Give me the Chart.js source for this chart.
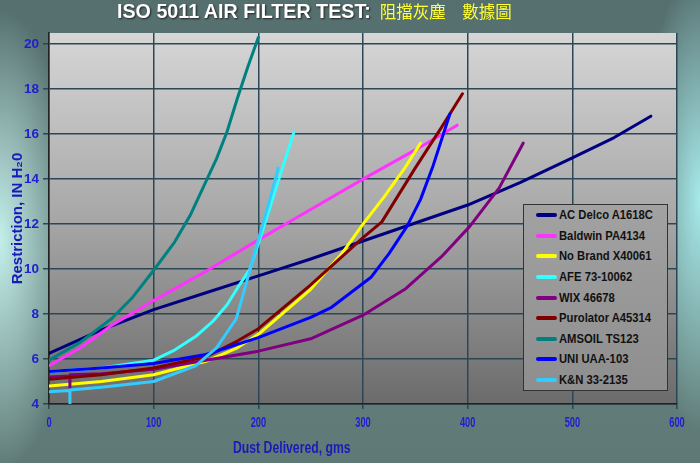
<!DOCTYPE html>
<html><head><meta charset="utf-8">
<script src="https://cdn.jsdelivr.net/npm/chart.js@4.4.0/dist/chart.umd.min.js"></script>
<style>
html,body{margin:0;padding:0;width:700px;height:463px;overflow:hidden;}
body{position:relative;
 background:
  radial-gradient(ellipse 75px 230px at 0px 240px, rgba(200,245,240,0.95), rgba(200,245,240,0) 100%),
  radial-gradient(ellipse 60px 230px at 700px 200px, rgba(170,240,240,0.95), rgba(170,240,240,0) 100%),
  linear-gradient(#556f6f, #66817d 60%, #5f7a76);
}
#wrap{position:absolute;left:0;top:0;width:700px;height:463px;}
#title{position:absolute;left:117px;top:-1px;white-space:nowrap;font-weight:bold;line-height:24px;}
#title .en{font-family:"Liberation Sans",Arial,sans-serif;font-size:19.7px;color:#fff;text-shadow:1px 1px 2px #222;}
#title .zh{font-family:"Noto Sans CJK TC",sans-serif;font-size:16.5px;color:#ffff33;margin-left:9px;font-weight:normal;}
#legend{position:absolute;left:523px;top:204px;width:145px;height:187px;box-sizing:border-box;border:1px solid #333;
 background:linear-gradient(#a2a2a2,#8e8e8e);padding-top:0px;}
.row{height:20.6px;display:flex;align-items:center;white-space:nowrap;font-family:"Liberation Sans",Arial,sans-serif;font-weight:bold;font-size:12.5px;color:#111;}
.sw{display:inline-block;flex:none;width:21px;height:4px;margin-left:12px;margin-right:2px;border-radius:2px;}
.lt{display:inline-block;transform:scaleX(0.9);transform-origin:0 50%;}
</style></head>
<body>
<div id="wrap"><canvas id="c" width="700" height="463"></canvas></div>
<div id="title"><span class="en">ISO 5011 AIR FILTER TEST:</span><span class="zh">阻擋灰塵　數據圖</span></div>
<div id="legend"></div>
<script>
const seriesNames = ['AC Delco A1618C','Baldwin PA4134','No Brand X40061','AFE 73-10062','WIX 46678','Purolator A45314','AMSOIL TS123','UNI UAA-103','K&N 33-2135'];
const seriesColors = ['#000080','#ff33ff','#ffff00','#33ffff','#800080','#800000','#008080','#0000ff','#33ccff'];

const acDelcoX = [0, 50, 100, 150, 200, 250, 300, 350, 400, 450, 500, 540, 575];
const acDelcoY = [6.25, 7.3, 8.2, 8.95, 9.7, 10.45, 11.25, 12.05, 12.85, 13.85, 14.95, 15.85, 16.8];
const baldwinX = [0, 30, 60, 100, 150, 200, 250, 300, 350, 390];
const baldwinY = [5.7, 6.5, 7.5, 8.6, 9.9, 11.3, 12.65, 14.0, 15.3, 16.4];
const noBrandX = [0, 50, 100, 150, 180, 200, 220, 250, 280, 300, 320, 340, 355];
const noBrandY = [4.8, 5.0, 5.3, 5.9, 6.5, 7.1, 7.9, 9.1, 10.7, 12.0, 13.2, 14.5, 15.6];
const afeX = [0, 50, 100, 120, 140, 157, 170, 182, 192, 204, 219, 234];
const afeY = [5.45, 5.6, 5.95, 6.4, 7.0, 7.7, 8.4, 9.3, 10.0, 11.7, 13.9, 16.1];
const wixX = [0, 20, 20, 20, 50, 100, 150, 200, 250, 300, 340, 375, 402, 430, 453];
const wixY = [5.2, 5.25, 4.75, 5.3, 5.35, 5.55, 5.95, 6.35, 6.9, 7.95, 9.1, 10.55, 11.9, 13.6, 15.6];
const purolatorX = [0, 50, 100, 150, 180, 200, 250, 300, 318, 350, 375, 395];
const purolatorY = [5.1, 5.3, 5.6, 6.1, 6.8, 7.35, 9.3, 11.4, 12.1, 14.5, 16.3, 17.8];
const amsoilX = [0, 30, 60, 80, 100, 120, 135, 150, 160, 170, 180, 190, 200];
const amsoilY = [5.95, 6.75, 7.8, 8.75, 9.95, 11.2, 12.4, 13.9, 14.9, 16.1, 17.6, 19.0, 20.3];
const uniX = [0, 50, 100, 150, 200, 250, 270, 308, 325, 342, 355, 367, 383];
const uniY = [5.45, 5.6, 5.8, 6.2, 6.95, 7.85, 8.3, 9.65, 10.7, 11.9, 13.1, 14.6, 16.9];
const knX = [0, 20, 20, 20, 50, 100, 140, 160, 179, 200, 211, 219];
const knY = [4.55, 4.6, 3.0, 4.62, 4.75, 5.0, 5.7, 6.5, 7.8, 11.3, 13.1, 14.5];

const xTickValues = [0, 100, 200, 300, 400, 500, 600];
const yTickValues = [4, 6, 8, 10, 12, 14, 16, 18, 20];
const xAxisTitle = 'Dust Delivered, gms';
const yAxisTitle = 'Restriction, IN H\u20820';

const seriesX = [acDelcoX, baldwinX, noBrandX, afeX, wixX, purolatorX, amsoilX, uniX, knX];
const seriesY = [acDelcoY, baldwinY, noBrandY, afeY, wixY, purolatorY, amsoilY, uniY, knY];

// legend (HTML)
const lg = document.getElementById('legend');
seriesNames.forEach((n, i) => {
  const r = document.createElement('div'); r.className = 'row';
  const s = document.createElement('span'); s.className = 'sw'; s.style.background = seriesColors[i];
  const t = document.createElement('span'); t.className = 'lt'; t.textContent = n;
  r.appendChild(s); r.appendChild(t); lg.appendChild(r);
});

const datasets = seriesNames.map((n, i) => ({
  label: n,
  data: seriesX[i].map((x, j) => ({x: x, y: seriesY[i][j]})),
  borderColor: seriesColors[i],
  backgroundColor: seriesColors[i],
  borderWidth: 3,
  borderJoinStyle: 'round',
  borderCapStyle: 'round',
  pointRadius: 0,
  tension: 0,
  fill: false,
  order: seriesNames.length - i
}));

const plotBg = {
  id: 'plotBg',
  beforeDraw(chart) {
    const {ctx, chartArea: a} = chart;
    const g = ctx.createLinearGradient(0, a.top, 0, a.bottom);
    g.addColorStop(0, '#d6d6d6');
    g.addColorStop(0.5, '#a7a7a7');
    g.addColorStop(1, '#6b6b6b');
    ctx.save(); ctx.fillStyle = g;
    ctx.fillRect(a.left, a.top, a.right - a.left, a.bottom - a.top);
    ctx.restore();
  }
};

// x tick labels and x title, drawn condensed like the original
const xText = {
  id: 'xText',
  afterDraw(chart) {
    const {ctx, chartArea: a} = chart;
    const sx = chart.scales.x;
    ctx.save();
    ctx.textAlign = 'center'; ctx.textBaseline = 'middle';
    ctx.fillStyle = '#2020d0';
    ctx.font = 'bold 14px "Liberation Sans", Arial, sans-serif';
    xTickValues.forEach(v => {
      ctx.save();
      ctx.translate(sx.getPixelForValue(v), a.bottom + 19);
      ctx.scale(0.66, 1);
      ctx.fillText(String(v), 0, 0);
      ctx.restore();
    });
    ctx.fillStyle = '#1a1ab8';
    ctx.font = 'bold 17px "Liberation Sans", Arial, sans-serif';
    ctx.translate(sx.getPixelForValue(232), a.bottom + 44);
    ctx.scale(0.72, 1);
    ctx.fillText(xAxisTitle, 0, 0);
    ctx.restore();
  }
};

const gridColor = '#2c4656';
new Chart(document.getElementById('c'), {
  type: 'line',
  data: {datasets},
  plugins: [plotBg, xText],
  options: {
    responsive: false,
    animation: false,
    layout: {padding: {left: 0, right: 23, top: 33, bottom: 0}},
    plugins: {legend: {display: false}, tooltip: {enabled: false}},
    scales: {
      x: {
        type: 'linear', min: 0, max: 600,
        afterBuildTicks: s => { s.ticks = xTickValues.map(v => ({value: v})); },
        afterFit: s => { s.height = 59; },
        ticks: {display: false},
        grid: {color: gridColor, lineWidth: 1.5, tickLength: 5, drawTicks: true},
        border: {color: '#222', width: 1.5}
      },
      y: {
        type: 'linear', min: 4, max: 20.5,
        afterBuildTicks: s => { s.ticks = yTickValues.map(v => ({value: v})); },
        afterFit: s => { s.width = 49; },
        ticks: {color: '#2020d0', padding: 4, font: {family: '"Liberation Sans",Arial,sans-serif', weight: 'bold', size: 13.5}},
        grid: {color: gridColor, lineWidth: 1.5, tickLength: 6},
        border: {color: '#222', width: 1.5},
        title: {display: true, text: yAxisTitle, color: '#1a1ab8', padding: {top: 9, bottom: 0},
          font: {family: '"Liberation Sans",Arial,sans-serif', weight: 'bold', size: 15}}
      }
    }
  }
});
</script>
</body></html>
